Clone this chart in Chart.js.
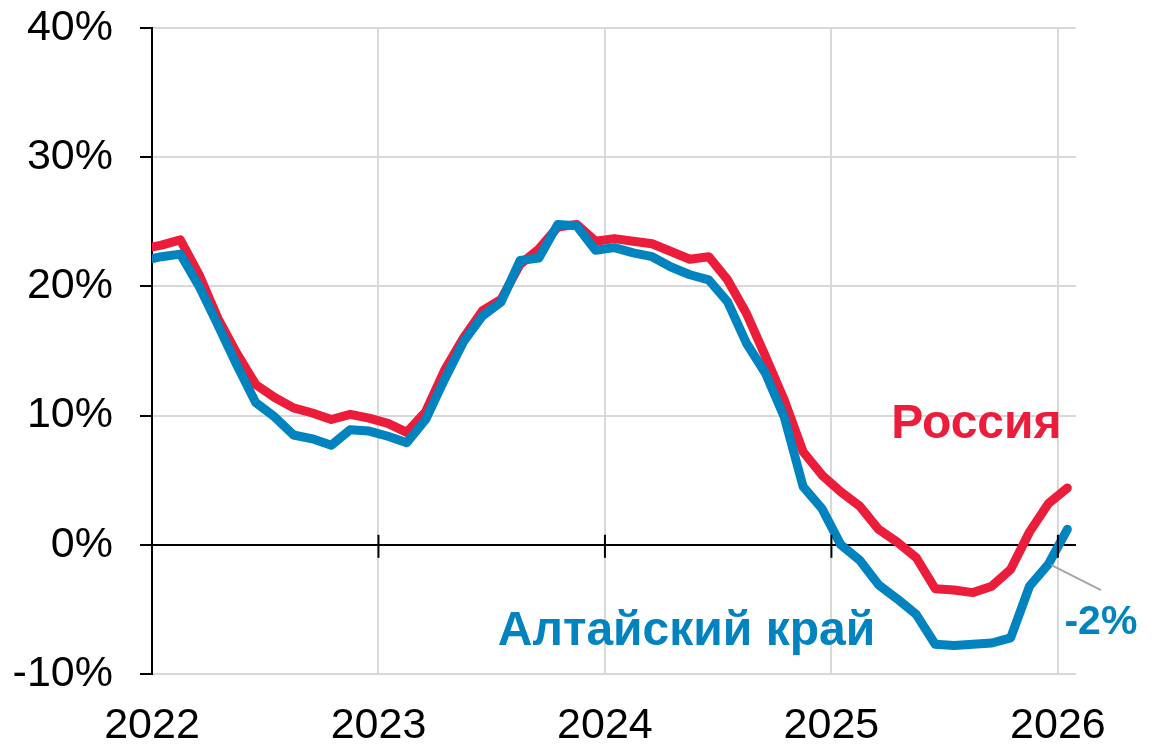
<!DOCTYPE html>
<html lang="ru">
<head>
<meta charset="UTF-8">
<title>Россия и Алтайский край</title>
<script src="https://cdn.jsdelivr.net/npm/chart.js"></script>
<style>
  body { margin: 0; background: #fff; }
  #wrap { width: 1167px; height: 745px; }
</style>
</head>
<body>
<div id="wrap"><canvas id="chart" width="1167" height="745"></canvas></div>
<script>
// monthly values from Dec 2021 to Jan 2026, plotted mid-month
// (the Dec 2021 point sits left of the axis and gets clipped)
const firstYear = 2021;
const firstMonth = 12;

const russia = [
  22.9,
  23.2, 23.6, 20.9, 17.5, 14.8, 12.4, 11.4, 10.6, 10.2, 9.7, 10.1, 9.8,
  9.4, 8.7, 10.3, 13.5, 16.0, 18.1, 19.0, 21.7, 22.9, 24.6, 24.8, 23.5,
  23.7, 23.5, 23.3, 22.7, 22.1, 22.3, 20.5, 17.9, 14.6, 11.2, 7.2, 5.4,
  4.1, 3.0, 1.2, 0.2, -1.0, -3.4, -3.5, -3.7, -3.2, -1.9, 1.0, 3.2,
  4.4
];

const altai = [
  22.0,
  22.3, 22.5, 20.0, 17.0, 13.9, 11.0, 9.9, 8.5, 8.2, 7.7, 8.9, 8.8,
  8.4, 7.9, 9.7, 12.8, 15.7, 17.7, 18.8, 22.0, 22.2, 24.8, 24.7, 22.8,
  23.0, 22.6, 22.3, 21.5, 20.9, 20.5, 18.8, 15.6, 13.3, 9.9, 4.5, 2.8,
  0.0, -1.2, -3.1, -4.2, -5.4, -7.7, -7.8, -7.7, -7.6, -7.2, -3.2, -1.5,
  1.2
];

const yMin = -10, yMax = 40, yStep = 10;
const xMin = 2022, xMax = 2026.08;
const calloutValue = '-2%';

const RED = '#ec1c3b';
const BLUE = '#0083be';
const FONT = 'Arial, "Liberation Sans", sans-serif';

function toPoints(values) {
  return values.map((v, i) => ({
    x: firstYear + (firstMonth - 0.5) / 12 + i / 12,
    y: v
  }));
}

// small crossing marks on the zero line, labels and the -2% callout
const extras = {
  id: 'extras',
  afterDraw(chart) {
    const ctx = chart.ctx;
    const xs = chart.scales.x;
    const ys = chart.scales.y;
    const y0 = ys.getPixelForValue(0);

    ctx.save();
    ctx.strokeStyle = '#000';
    ctx.lineWidth = 2;
    xs.ticks.forEach(t => {
      if (t.value <= xMin) return;
      const px = xs.getPixelForValue(t.value);
      ctx.beginPath();
      ctx.moveTo(px, y0 - 10);
      ctx.lineTo(px, y0 + 13);
      ctx.stroke();
    });

    // leader line from the Dec 2025 point
    const last = altai.length - 2;
    const p = chart.getDatasetMeta(0).data[last];
    ctx.strokeStyle = '#a6a6a6';
    ctx.lineWidth = 2;
    ctx.beginPath();
    ctx.moveTo(p.x + 3, p.y + 1);
    ctx.lineTo(xs.getPixelForValue(2026.19), ys.getPixelForValue(-3.5));
    ctx.stroke();

    ctx.textAlign = 'center';
    ctx.textBaseline = 'middle';
    ctx.font = 'bold 48px ' + FONT;
    ctx.fillStyle = RED;
    ctx.fillText('Россия', xs.getPixelForValue(2025.64), ys.getPixelForValue(9.3));
    ctx.fillStyle = BLUE;
    ctx.fillText('Алтайский край', xs.getPixelForValue(2024.36), ys.getPixelForValue(-6.7));
    ctx.font = 'bold 41px ' + FONT;
    ctx.fillText(calloutValue, xs.getPixelForValue(2026.19), ys.getPixelForValue(-6.0));
    ctx.restore();
  }
};

new Chart(document.getElementById('chart'), {
  type: 'line',
  data: {
    datasets: [
      {
        label: 'Алтайский край',
        data: toPoints(altai),
        borderColor: BLUE,
        borderWidth: 9,
        pointRadius: 0,
        borderCapStyle: 'round',
        borderJoinStyle: 'round',
        clip: 0
      },
      {
        label: 'Россия',
        data: toPoints(russia),
        borderColor: RED,
        borderWidth: 9,
        pointRadius: 0,
        borderCapStyle: 'round',
        borderJoinStyle: 'round',
        clip: 0
      }
    ]
  },
  options: {
    responsive: false,
    animation: false,
    layout: { padding: { top: 28, right: 91, left: 0, bottom: 0 } },
    plugins: {
      legend: { display: false },
      tooltip: { enabled: false }
    },
    scales: {
      x: {
        type: 'linear',
        min: xMin,
        max: xMax,
        border: { display: false },
        grid: { color: '#d9d9d9', lineWidth: 2, drawTicks: false },
        ticks: {
          stepSize: 1,
          includeBounds: false,
          autoSkip: false,
          maxRotation: 0,
          padding: 26,
          color: '#000',
          font: { size: 43, family: FONT },
          callback: v => String(v)
        },
        afterFit: s => { s.height = 71; s.paddingLeft = 0; s.paddingRight = 0; }
      },
      y: {
        min: yMin,
        max: yMax,
        border: { display: true, color: '#000', width: 2 },
        grid: {
          color: c => c.tick && c.tick.value === 0 ? '#000' : '#d9d9d9',
          lineWidth: 2,
          tickColor: '#000',
          tickLength: 12
        },
        ticks: {
          stepSize: yStep,
          padding: 27,
          color: '#000',
          font: { size: 43, family: FONT },
          callback: v => v + '%'
        },
        afterFit: s => { s.width = 152; s.paddingTop = 0; s.paddingBottom = 0; }
      }
    }
  },
  plugins: [extras]
});
</script>
</body>
</html>
